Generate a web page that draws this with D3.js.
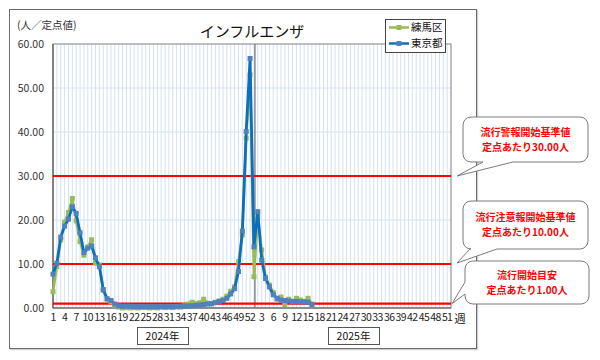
<!DOCTYPE html>
<html><head><meta charset="utf-8">
<script src="https://cdn.jsdelivr.net/npm/d3@7"></script>
<style>
html,body{margin:0;padding:0;background:#fff;}
text{font-family:"Noto Sans CJK JP","Noto Sans",sans-serif;}
</style></head>
<body><svg id="c" width="600" height="360"></svg>
<script>
// ---- data ----
const years = ["2024年", "2025年"];
const weeksPerYear = 52;
const xTickLabels = d3.range(0, 104, 3); // category indices that get a label
const yTicks = [0, 10, 20, 30, 40, 50, 60];
const seriesNames = ["練馬区", "東京都"];
// 2024 wk1..52, 2025 wk1..16
const nerima = [3.7, 9.4, 15.5, 19.5, 21.7, 24.9, 19.8, 15.1, 12.0, 13.9, 15.5, 10.2, 9.8, 4.0, 2.0, 1.4,
  0.6, 0.2, 0.0, 0.1, 0.0, 0.1, 0.0, 0.1, 0.1, 0.0, 0.1, 0.0, 0.2, 0.1, 0.2, 0.1, 0.3, 0.2, 0.5, 0.9,
  1.3, 1.0, 1.2, 2.0, 1.1, 0.9, 1.3, 1.6, 2.0, 2.7, 3.8, 4.8, 10.5, 16.6, 38.6, 53.0,
  7.1, 20.8, 13.2, 7.0, 5.2, 3.5, 2.0, 2.5, 0.8, 2.0, 1.5, 2.2, 1.8, 1.5, 2.2, 0.9];
const tokyo = [7.7, 10.2, 16.1, 18.6, 20.2, 23.0, 21.5, 17.1, 12.6, 13.6, 14.1, 11.4, 9.4, 4.2, 2.1, 1.7,
  0.9, 0.5, 0.4, 0.4, 0.4, 0.3, 0.3, 0.3, 0.3, 0.3, 0.3, 0.3, 0.3, 0.3, 0.3, 0.3, 0.3, 0.4, 0.4, 0.5,
  0.5, 0.6, 0.7, 0.8, 0.9, 1.0, 1.2, 1.5, 1.7, 2.2, 3.2, 4.4, 8.3, 17.5, 40.1, 56.7,
  13.9, 21.9, 10.9, 6.7, 4.8, 3.0, 2.2, 1.8, 1.7, 1.6, 1.5, 1.5, 1.4, 1.4, 1.3, 0.8];
const thresholds = [30, 10, 1];
const callouts = [
  ["流行警報開始基準値", "定点あたり30.00人"],
  ["流行注意報開始基準値", "定点あたり10.00人"],
  ["流行開始目安", "定点あたり1.00人"]
];

// ---- layout ----
const svg = d3.select("#c");
const L = 53, R = 451, T = 44, B = 308;
const nCat = weeksPerYear * 2;
const idx = d3.range(nCat);
const weekOf = i => (i % weeksPerYear) + 1;
const x = d3.scalePoint().domain(idx).range([L, R]);
const y = d3.scaleLinear().domain([0, 60]).range([B, T]);

// outer frame
svg.append("rect").attr("x", 10.5).attr("y", 10.5).attr("width", 467).attr("height", 339)
  .attr("fill", "none").attr("stroke", "#d0d0d0").attr("stroke-width", 1.5);
svg.append("rect").attr("x", 9.5).attr("y", 9.5).attr("width", 467).attr("height", 339)
  .attr("fill", "#fff").attr("stroke", "#6b6b6b").attr("stroke-width", 1);

// gridlines
const g = svg.append("g");
g.selectAll("line.v").data(idx.slice(1)).join("line")
  .attr("x1", d => x(d)).attr("x2", d => x(d)).attr("y1", T).attr("y2", B)
  .attr("stroke", "#d3e1f3").attr("stroke-width", 1);
g.selectAll("line.h").data(yTicks.slice(1)).join("line")
  .attr("x1", L).attr("x2", R).attr("y1", d => y(d)).attr("y2", d => y(d))
  .attr("stroke", "#d6e2f2").attr("stroke-width", 1);

// plot border
svg.append("rect").attr("x", L).attr("y", T).attr("width", R - L).attr("height", B - T)
  .attr("fill", "none").attr("stroke", "#8c8c8c").attr("stroke-width", 1);
svg.append("line").attr("x1", L).attr("x2", L).attr("y1", T).attr("y2", B).attr("stroke", "#555").attr("stroke-width", 1.2);
svg.append("line").attr("x1", L).attr("x2", R).attr("y1", B).attr("y2", B).attr("stroke", "#555").attr("stroke-width", 1.2);

// year divider
svg.append("line").attr("x1", x(weeksPerYear) + 1).attr("x2", x(weeksPerYear) + 1).attr("y1", T).attr("y2", B)
  .attr("stroke", "#777").attr("stroke-width", 1.3);

// y axis labels
svg.selectAll("text.yl").data(yTicks).join("text")
  .attr("x", 44).attr("y", d => y(d)).attr("dy", "0.35em").attr("text-anchor", "end")
  .attr("font-size", 10.5).attr("fill", "#333").text(d => d3.format(".2f")(d));

// x axis labels
svg.selectAll("text.xl").data(xTickLabels).join("text")
  .attr("x", d => x(d)).attr("y", 321).attr("text-anchor", "middle")
  .attr("font-size", 10.5).attr("letter-spacing", "-0.6").attr("fill", "#222").text(d => weekOf(d));
svg.append("text").attr("x", 460).attr("y", 323).attr("text-anchor", "middle").attr("font-size", 11.5).attr("fill", "#222").text("週");

// year boxes
const yearBox = [[137, 188], [328, 379]];
years.forEach((t, i) => {
  svg.append("rect").attr("x", yearBox[i][0] + 0.5).attr("y", 327.5).attr("width", yearBox[i][1] - yearBox[i][0]).attr("height", 17)
    .attr("fill", "#fff").attr("stroke", "#555");
  svg.append("text").attr("x", (yearBox[i][0] + yearBox[i][1]) / 2).attr("y", 336).attr("dy", "0.35em")
    .attr("text-anchor", "middle").attr("font-size", 10.5).attr("fill", "#111").text(t);
});

// titles
svg.append("text").attr("x", 17).attr("y", 29).attr("font-size", 10.5).attr("fill", "#333").text("(人／定点値)");
svg.append("text").attr("x", 252).attr("y", 37).attr("text-anchor", "middle").attr("font-size", 15).attr("fill", "#111").text("インフルエンザ");

// threshold lines
svg.selectAll("line.th").data(thresholds).join("line")
  .attr("x1", L).attr("x2", R).attr("y1", d => y(d)).attr("y2", d => y(d))
  .attr("stroke", "#ff0000").attr("stroke-width", 2.2);

// series
const series = [
  {name: seriesNames[0], vals: nerima, line: "#9bbb59", mark: "#9bbb59", w: 2.6},
  {name: seriesNames[1], vals: tokyo, line: "#0b6fc0", mark: "#4f81bd", w: 2.8}
];
const lineGen = d3.line().defined(d => d[1] != null).x(d => x(d[0])).y(d => y(d[1]));
series.forEach(s => {
  const pts = s.vals.map((v, i) => [i, v]);
  svg.append("path").datum(pts).attr("d", lineGen).attr("fill", "none")
    .attr("stroke", s.line).attr("stroke-width", s.w).attr("stroke-linejoin", "round");
  svg.append("g").selectAll("rect").data(pts).join("rect")
    .attr("x", d => x(d[0]) - 2.5).attr("y", d => y(d[1]) - 2.5).attr("width", 5).attr("height", 5)
    .attr("fill", s.mark);
});

// legend
svg.append("rect").attr("x", 385.5).attr("y", 19.5).attr("width", 60).attr("height", 33)
  .attr("fill", "#fff").attr("stroke", "#444");
series.forEach((s, i) => {
  const yy = 27.5 + i * 16;
  svg.append("line").attr("x1", 389).attr("x2", 409).attr("y1", yy).attr("y2", yy).attr("stroke", s.line).attr("stroke-width", 2.5);
  svg.append("rect").attr("x", 396.5).attr("y", yy - 2.5).attr("width", 5).attr("height", 5).attr("fill", s.mark);
  svg.append("text").attr("x", 411).attr("y", yy).attr("dy", "0.36em").attr("font-size", 10.5).attr("fill", "#111").text(s.name);
});

// callouts
const boxes = [
  {x0: 463, x1: 588, y0: 117, y1: 162, tip: [457, y(30)], base: "bottom", b: [483, 513]},
  {x0: 463, x1: 588, y0: 201, y1: 249, tip: [457, y(10) - 1], base: "bottom", b: [470, 497]},
  {x0: 465, x1: 589, y0: 261, y1: 304, tip: [452, y(1)], base: "left", b: [282, 294]}
];
boxes.forEach((c, i) => {
  const r = 8;
  const p = d3.path();
  p.moveTo(c.x0 + r, c.y0);
  p.lineTo(c.x1 - r, c.y0);
  p.arcTo(c.x1, c.y0, c.x1, c.y0 + r, r);
  p.lineTo(c.x1, c.y1 - r);
  p.arcTo(c.x1, c.y1, c.x1 - r, c.y1, r);
  if (c.base === "bottom") {
    p.lineTo(c.b[1], c.y1);
    p.lineTo(c.tip[0], c.tip[1]);
    p.lineTo(c.b[0], c.y1);
  }
  p.lineTo(c.x0 + r, c.y1);
  p.arcTo(c.x0, c.y1, c.x0, c.y1 - r, r);
  if (c.base === "left") {
    p.lineTo(c.x0, c.b[1]);
    p.lineTo(c.tip[0], c.tip[1]);
    p.lineTo(c.x0, c.b[0]);
  }
  p.lineTo(c.x0, c.y0 + r);
  p.arcTo(c.x0, c.y0, c.x0 + r, c.y0, r);
  p.closePath();
  svg.append("path").attr("d", p.toString()).attr("fill", "#fff").attr("stroke", "#7a7a7a").attr("stroke-width", 1);
  const cx = (c.x0 + c.x1) / 2, cy = (c.y0 + c.y1) / 2;
  callouts[i].forEach((t, j) => {
    svg.append("text").attr("x", cx).attr("y", cy + (j - 0.5) * 15).attr("dy", "0.35em")
      .attr("text-anchor", "middle").attr("font-size", 10).attr("font-weight", "bold")
      .attr("fill", "#ff0000").text(t);
  });
});
</script></body></html>
